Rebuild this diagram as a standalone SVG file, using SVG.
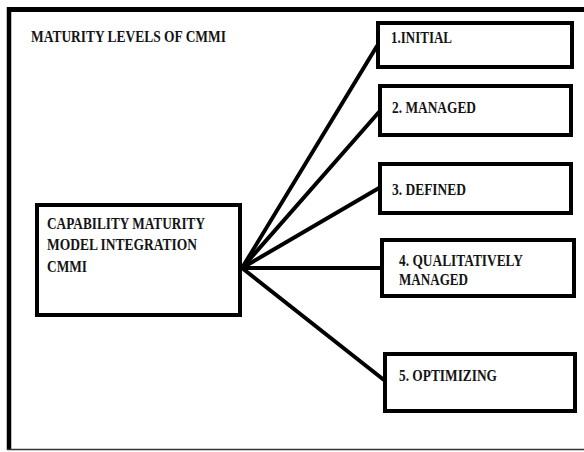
<svg xmlns="http://www.w3.org/2000/svg" width="584" height="452" viewBox="0 0 584 452">
<style>
.box{fill:#fff;stroke:#000;stroke-width:4}
.t{font-family:'Liberation Serif','Times New Roman',serif;font-weight:700;font-size:16.5px;fill:#141414}
.c{stroke:#000;stroke-width:4;fill:none;stroke-linecap:round}
</style>
<rect width="584" height="452" fill="#fff"/>
<g id="frame">
<line x1="9" y1="9.5" x2="590" y2="9.5" stroke="#000" stroke-width="5"/>
<line x1="9" y1="7" x2="9" y2="450" stroke="#000" stroke-width="4.5"/>
<line x1="7" y1="449.5" x2="590" y2="449.5" stroke="#333" stroke-width="1.5"/>
<text class="t" x="31" y="42" textLength="195" lengthAdjust="spacingAndGlyphs">MATURITY LEVELS OF CMMI</text>
</g>
<g id="connectors">
<line class="c" x1="242" y1="268" x2="377" y2="46"/>
<line class="c" x1="242" y1="268" x2="379" y2="112"/>
<line class="c" x1="242" y1="268" x2="379" y2="188"/>
<line class="c" x1="242" y1="268" x2="381" y2="268"/>
<line class="c" x1="242" y1="268" x2="384" y2="380"/>
</g>
<g id="cmmi">
<rect class="box" x="37" y="205" width="203" height="110"/>
<text class="t" x="47" y="229" textLength="158" lengthAdjust="spacingAndGlyphs">CAPABILITY MATURITY</text>
<text class="t" x="47" y="250" textLength="150" lengthAdjust="spacingAndGlyphs">MODEL INTEGRATION</text>
<text class="t" x="47" y="272" textLength="40" lengthAdjust="spacingAndGlyphs">CMMI</text>
</g>
<g id="initial">
<rect class="box" x="378" y="23" width="194" height="44"/>
<text class="t" x="391" y="43" textLength="61" lengthAdjust="spacingAndGlyphs">1.INITIAL</text>
</g>
<g id="managed">
<rect class="box" x="380" y="86" width="191" height="49"/>
<text class="t" x="392" y="113" textLength="84" lengthAdjust="spacingAndGlyphs">2. MANAGED</text>
</g>
<g id="defined">
<rect class="box" x="380" y="164" width="191" height="49"/>
<text class="t" x="392" y="195" textLength="74" lengthAdjust="spacingAndGlyphs">3. DEFINED</text>
</g>
<g id="qualitatively">
<rect class="box" x="382" y="240" width="192" height="56"/>
<text class="t" x="399" y="266" textLength="124" lengthAdjust="spacingAndGlyphs">4. QUALITATIVELY</text>
<text class="t" x="399" y="285" textLength="69" lengthAdjust="spacingAndGlyphs">MANAGED</text>
</g>
<g id="optimizing">
<rect class="box" x="385" y="354" width="190" height="57"/>
<text class="t" x="399" y="381" textLength="98" lengthAdjust="spacingAndGlyphs">5. OPTIMIZING</text>
</g>
</svg>
